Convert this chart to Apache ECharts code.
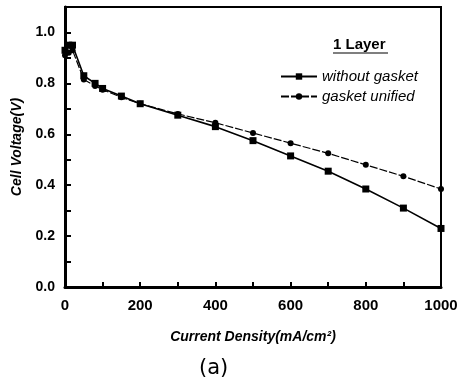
<!DOCTYPE html>
<html>
<head>
<meta charset="utf-8">
<title>Cell Voltage - 1 Layer</title>
<script src="https://cdn.jsdelivr.net/npm/echarts@6/dist/echarts.min.js"></script>
<style>
  html, body { margin: 0; padding: 0; background: #fff; }
  #chart { width: 465px; height: 388px; }
</style>
</head>
<body>
<div id="chart"></div>
<script>
// 电流密度 (mA/cm2)
var currentDensity = [0, 10, 20, 50, 80, 100, 150, 200, 300, 400, 500, 600, 700, 800, 900, 1000];
// without gasket
var withoutGasket = [0.93, 0.95, 0.95, 0.83, 0.80, 0.78, 0.75, 0.72, 0.675, 0.63, 0.575, 0.515, 0.455, 0.385, 0.31, 0.23];
// gasket unified
var gasketUnified = [0.91, 0.92, 0.93, 0.815, 0.79, 0.775, 0.745, 0.72, 0.68, 0.645, 0.605, 0.565, 0.525, 0.48, 0.435, 0.385];
var seriesNames = ["without gasket", "gasket unified"];

function pairs(xs, ys) {
  var out = [];
  for (var i = 0; i < xs.length; i++) {
    out.push([xs[i], ys[i]]);
  }
  return out;
}

var myChart = echarts.init(document.getElementById("chart"));
var font = "Liberation Sans";

var option = {
  backgroundColor: "#fff",
  animation: false,
  grid: {
    left: 65,
    right: 24,
    top: 7,
    bottom: 101,
    show: true,
    borderColor: "#000",
    borderWidth: 2
  },
  // 图例
  legend: {
    orient: "vertical",
    left: 280,
    top: 69,
    padding: 0,
    itemWidth: 36,
    itemHeight: 8,
    itemGap: 5,
    data: seriesNames,
    textStyle: {
      color: "#000",
      fontFamily: font,
      fontStyle: "italic",
      fontSize: 15
    }
  },
  xAxis: {
    type: "value",
    min: 0,
    max: 1000,
    interval: 100,
    name: "Current Density(mA/cm²)",
    nameLocation: "middle",
    nameGap: 43,
    nameTextStyle: {
      color: "#000",
      fontFamily: font,
      fontStyle: "italic",
      fontWeight: "bold",
      fontSize: 14
    },
    axisLine: { lineStyle: { color: "#000", width: 3 } },
    axisTick: { inside: true, length: 5, lineStyle: { color: "#000", width: 2 } },
    axisLabel: {
      color: "#000",
      fontFamily: font,
      fontWeight: "bold",
      fontSize: 15,
      margin: 11,
      formatter: function (v) {
        return v % 200 === 0 ? String(v) : "";
      }
    },
    splitLine: { show: false }
  },
  yAxis: {
    type: "value",
    min: 0,
    max: 1.1,
    interval: 0.1,
    name: "Cell Voltage(V)",
    nameLocation: "middle",
    nameGap: 41,
    nameTextStyle: {
      color: "#000",
      fontFamily: font,
      fontStyle: "italic",
      fontWeight: "bold",
      fontSize: 14
    },
    axisLine: { lineStyle: { color: "#000", width: 3 } },
    axisTick: { inside: true, length: 6, lineStyle: { color: "#000", width: 2 } },
    axisLabel: {
      color: "#000",
      fontFamily: font,
      fontWeight: "bold",
      fontSize: 14,
      margin: 10,
      // 只显示 0.2 的倍数
      formatter: function (v) {
        var k = Math.round(v * 10);
        if (k > 10 || k % 2 !== 0) return "";
        return (k / 10).toFixed(1);
      }
    },
    splitLine: { show: false }
  },
  graphic: [
    {
      type: "text",
      left: 333,
      top: 37,
      style: {
        text: "1 Layer",
        fill: "#000",
        font: "bold 15px " + font
      }
    },
    {
      type: "line",
      shape: { x1: 333, y1: 53, x2: 388, y2: 53 },
      style: { stroke: "#000", lineWidth: 1.2 }
    },
    {
      type: "text",
      left: 199,
      top: 358,
      style: {
        text: "(a)",
        fill: "#000",
        font: "21px 'DejaVu Sans'"
      }
    }
  ],
  series: [
    {
      name: seriesNames[0],
      type: "line",
      data: pairs(currentDensity, withoutGasket),
      symbol: "rect",
      symbolSize: 7,
      lineStyle: { color: "#000", width: 1.6 },
      itemStyle: { color: "#000" }
    },
    {
      name: seriesNames[1],
      type: "line",
      data: pairs(currentDensity, gasketUnified),
      symbol: "circle",
      symbolSize: 6,
      lineStyle: { color: "#000", width: 1.2, type: [8, 2] },
      itemStyle: { color: "#000" }
    }
  ]
};

myChart.setOption(option);
</script>
</body>
</html>
